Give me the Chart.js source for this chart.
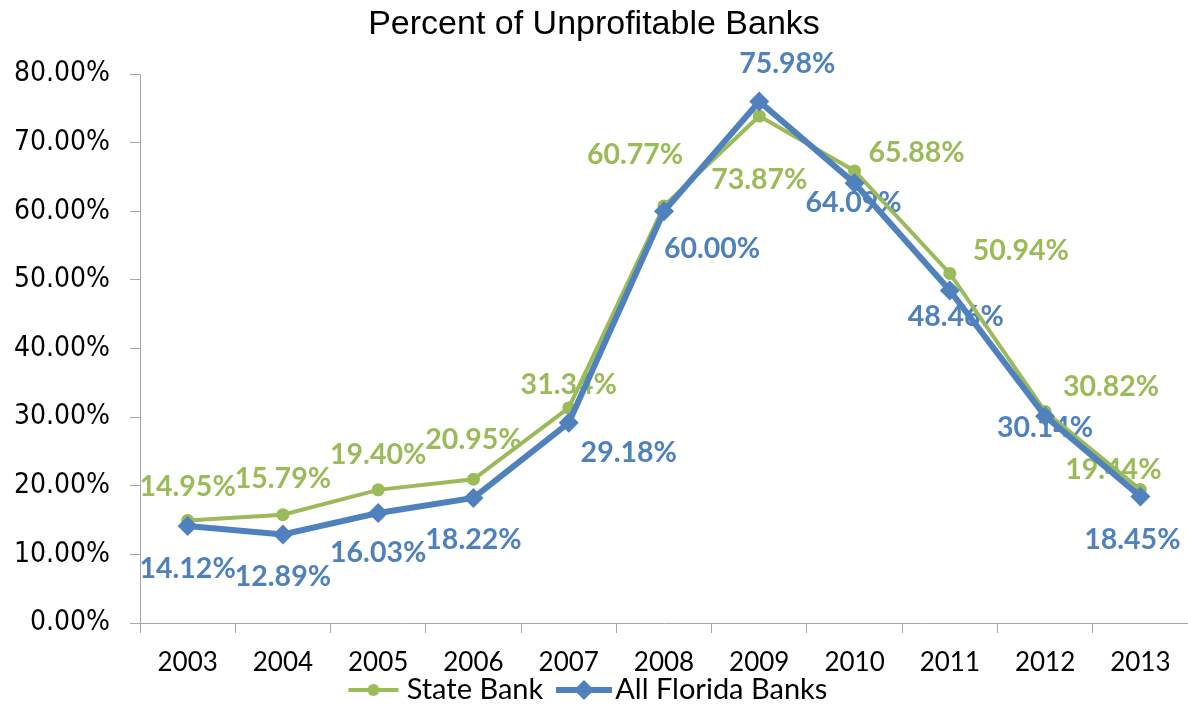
<!DOCTYPE html>
<html>
<head>
<meta charset="utf-8">
<script src="https://cdn.jsdelivr.net/npm/chart.js@4"></script>
<style>
  body { margin: 0; background: #fff; }
</style>
</head>
<body>
<canvas id="myChart" width="1188" height="706"></canvas>
<script>
const years = ['2003', '2004', '2005', '2006', '2007', '2008', '2009', '2010', '2011', '2012', '2013'];
const stateBank = [14.95, 15.79, 19.40, 20.95, 31.34, 60.77, 73.87, 65.88, 50.94, 30.82, 19.44];
const allFlorida = [14.12, 12.89, 16.03, 18.22, 29.18, 60.00, 75.98, 64.09, 48.46, 30.14, 18.45];
const yTicks = [0, 10, 20, 30, 40, 50, 60, 70, 80];

// label offsets from the point, in pixels
const stateOffsets = [[0, -34], [0, -36], [0, -35], [0, -39], [0, -23], [-29, -51], [0, 64], [62, -18], [71, -23], [66, -25], [-27, -20]];
const floridaOffsets = [[0, 43], [0, 42], [0, 40], [0, 42], [60, 30], [48, 38], [28, -38], [-1, 20], [6, 26], [0, 12], [-8, 43]];

const green = '#9BBB59';
const blue = '#4F81BD';
const axisGrey = '#A6A6A6';

// legend glyph: line with marker, placed so the line ends just before the text
function legendGlyph(color, lineW, start, end, marker) {
    const c = document.createElement('canvas');
    c.width = 140;
    c.height = 24;
    const g = c.getContext('2d');
    const mid = (start + end) / 2;
    g.strokeStyle = color;
    g.fillStyle = color;
    g.lineWidth = lineW;
    g.beginPath();
    g.moveTo(start, 12);
    g.lineTo(end, 12);
    g.stroke();
    g.beginPath();
    if (marker === 'circle') {
        g.arc(mid, 12, 6, 0, Math.PI * 2);
    } else {
        g.moveTo(mid - 10, 12);
        g.lineTo(mid, 2);
        g.lineTo(mid + 10, 12);
        g.lineTo(mid, 22);
        g.closePath();
    }
    g.fill();
    return c;
}

const glyphs = [legendGlyph(green, 4, 42, 92, 'circle'), legendGlyph(blue, 6, 41, 97, 'diamond')];

const pointLabels = {
    id: 'pointLabels',
    afterLayout(chart) {
        // let the year labels run under the legend box without being clipped
        chart.scales.x.bottom = chart.height;
    },
    beforeDatasetsDraw(chart) {
        const ctx = chart.ctx;
        const offsets = [stateOffsets, floridaOffsets];
        ctx.save();
        ctx.font = 'bold 28.5px Lato';
        ctx.textAlign = 'center';
        ctx.textBaseline = 'middle';
        chart.data.datasets.forEach((ds, i) => {
            const meta = chart.getDatasetMeta(i);
            ctx.fillStyle = ds.borderColor;
            meta.data.forEach((pt, j) => {
                const off = offsets[i][j];
                ctx.fillText(ds.data[j].toFixed(2) + '%', pt.x + off[0], pt.y + off[1]);
            });
        });
        ctx.restore();
    }
};

const getChart = document.getElementById('myChart').getContext('2d');
const mychart = new Chart(getChart, {
    type: 'line',
    data: {
        labels: years,
        datasets: [{
            label: 'State Bank',
            data: stateBank,
            borderColor: green,
            backgroundColor: green,
            borderWidth: 4,
            pointStyle: 'circle',
            pointRadius: 6.5,
            pointBorderWidth: 0,
            tension: 0,
            order: 1
        }, {
            label: 'All Florida Banks',
            data: allFlorida,
            borderColor: blue,
            backgroundColor: blue,
            borderWidth: 6,
            pointStyle: 'rectRot',
            pointRadius: 10,
            pointBorderWidth: 0,
            tension: 0,
            order: 0
        }]
    },
    options: {
        responsive: false,
        animation: false,
        layout: { autoPadding: false, padding: { left: 0, right: 0, top: 0, bottom: -8.5 } },
        scales: {
            x: {
                offset: true,
                grid: { offset: true, drawOnChartArea: false, color: axisGrey, tickLength: 10 },
                border: { color: axisGrey, width: 1 },
                ticks: { color: '#000', font: { family: 'Lato', size: 26 }, padding: 14 },
                afterFit(scale) {
                    scale.paddingLeft = 0;
                    scale.paddingRight = 0;
                    scale.height = 26.5;
                }
            },
            y: {
                min: 0,
                max: 80,
                afterBuildTicks(scale) {
                    scale.ticks = yTicks.map(v => ({ value: v }));
                },
                grid: { drawOnChartArea: false, color: axisGrey, tickLength: 10 },
                border: { color: axisGrey, width: 1 },
                ticks: {
                    color: '#000',
                    font: { family: "'Liberation Sans Narrow', 'DejaVu Sans Condensed', 'Liberation Sans'", size: 28 },
                    padding: 20,
                    callback: v => v.toFixed(2) + '%'
                },
                afterFit(scale) {
                    scale.width = 140;
                }
            }
        },
        plugins: {
            title: {
                display: true,
                text: 'Percent of Unprofitable Banks',
                color: '#000',
                font: { family: 'Liberation Sans', size: 34, weight: 'normal' },
                padding: { top: 4, bottom: 29.2 }
            },
            legend: {
                position: 'bottom',
                labels: {
                    color: '#000',
                    font: { family: 'Lato', size: 29 },
                    usePointStyle: true,
                    pointStyleWidth: 31.5,
                    padding: 26,
                    generateLabels(chart) {
                        return chart.data.datasets.map((ds, i) => ({
                            text: ds.label,
                            pointStyle: glyphs[i],
                            fillStyle: ds.borderColor,
                            strokeStyle: ds.borderColor,
                            lineWidth: 0,
                            fontColor: '#000',
                            hidden: false,
                            datasetIndex: i
                        }));
                    }
                }
            },
            tooltip: { enabled: false }
        }
    },
    plugins: [pointLabels]
});
</script>
</body>
</html>
